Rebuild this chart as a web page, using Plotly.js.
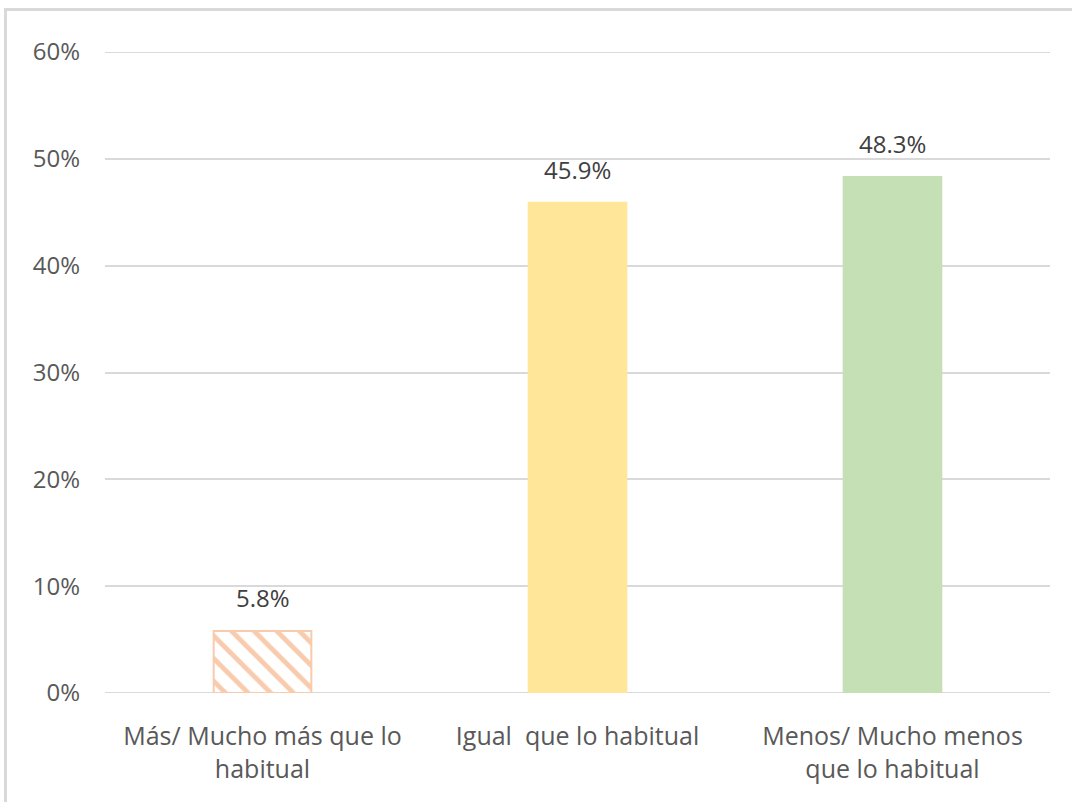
<!DOCTYPE html>
<html>
<head>
<meta charset="utf-8">
<script src="https://cdn.plot.ly/plotly-3.0.1.min.js"></script>
<style>
html,body{margin:0;padding:0;background:#fff;overflow:hidden;}
#frame{position:absolute;left:4px;top:8px;width:1100px;height:820px;border:3px solid #d9d9d9;box-sizing:border-box;}
#chart{position:absolute;left:0;top:0;width:1072px;height:802px;}
</style>
</head>
<body>
<div id="frame"></div>
<div id="chart"></div>
<script>
const categories = ["Más/ Mucho más que lo<br>habitual", "Igual  que lo habitual", "Menos/ Mucho menos<br>que lo habitual"];
const values = [0.058, 0.459, 0.483];
const valueLabels = ["5.8%", "45.9%", "48.3%"];
const yTickVals = [0, 0.1, 0.2, 0.3, 0.4, 0.5, 0.6];
const yTickText = ["0%", "10%", "20%", "30%", "40%", "50%", "60%"];
const barColors = ["#F8CBAD", "#FFE699", "#C5E0B4"];
const patternShapes = ["\\", "", ""];

const trace = {
  type: "bar",
  x: [0, 1, 2],
  y: values,
  width: 0.31,
  marker: {
    color: barColors,
    line: {color: barColors, width: 2},
    pattern: {shape: patternShapes, bgcolor: "#ffffff", size: 16, solidity: 0.3, fillmode: "replace"}
  },
  hoverinfo: "skip"
};

const annotations = values.map((v, i) => ({
  x: i, y: v, xref: "x", yref: "y",
  text: valueLabels[i], showarrow: false,
  yanchor: "bottom", yshift: 15,
  font: {family: "Open Sans, sans-serif", size: 24, color: "#404040"}
}));

const edgeGrid = [yTickVals[0], yTickVals[yTickVals.length - 1]].map(v => ({
  type: "line", xref: "paper", yref: "y", x0: 0, x1: 1, y0: v, y1: v,
  line: {color: "#d9d9d9", width: 2}, layer: "below"
}));

const layout = {
  width: 1072, height: 802,
  margin: {l: 105, r: 22, t: 52, b: 109},
  paper_bgcolor: "rgba(0,0,0,0)",
  plot_bgcolor: "rgba(0,0,0,0)",
  showlegend: false,
  font: {family: "Open Sans, sans-serif", size: 24, color: "#595959"},
  xaxis: {
    range: [-0.5, 2.5],
    tickvals: [0, 1, 2],
    ticktext: categories,
    showgrid: false, zeroline: false, showline: false,
    ticks: "", ticklabelstandoff: 26,
    tickfont: {size: 25, color: "#595959"}
  },
  yaxis: {
    range: [0, 0.6],
    tickvals: yTickVals,
    ticktext: yTickText,
    showgrid: true, gridcolor: "#d9d9d9", gridwidth: 2,
    zeroline: false, showline: false,
    ticks: "", ticklabelstandoff: 24,
    tickfont: {size: 24, color: "#595959"}
  },
  shapes: edgeGrid,
  annotations: annotations
};

Plotly.newPlot("chart", [trace], layout, {displayModeBar: false, staticPlot: true});
</script>
</body>
</html>
